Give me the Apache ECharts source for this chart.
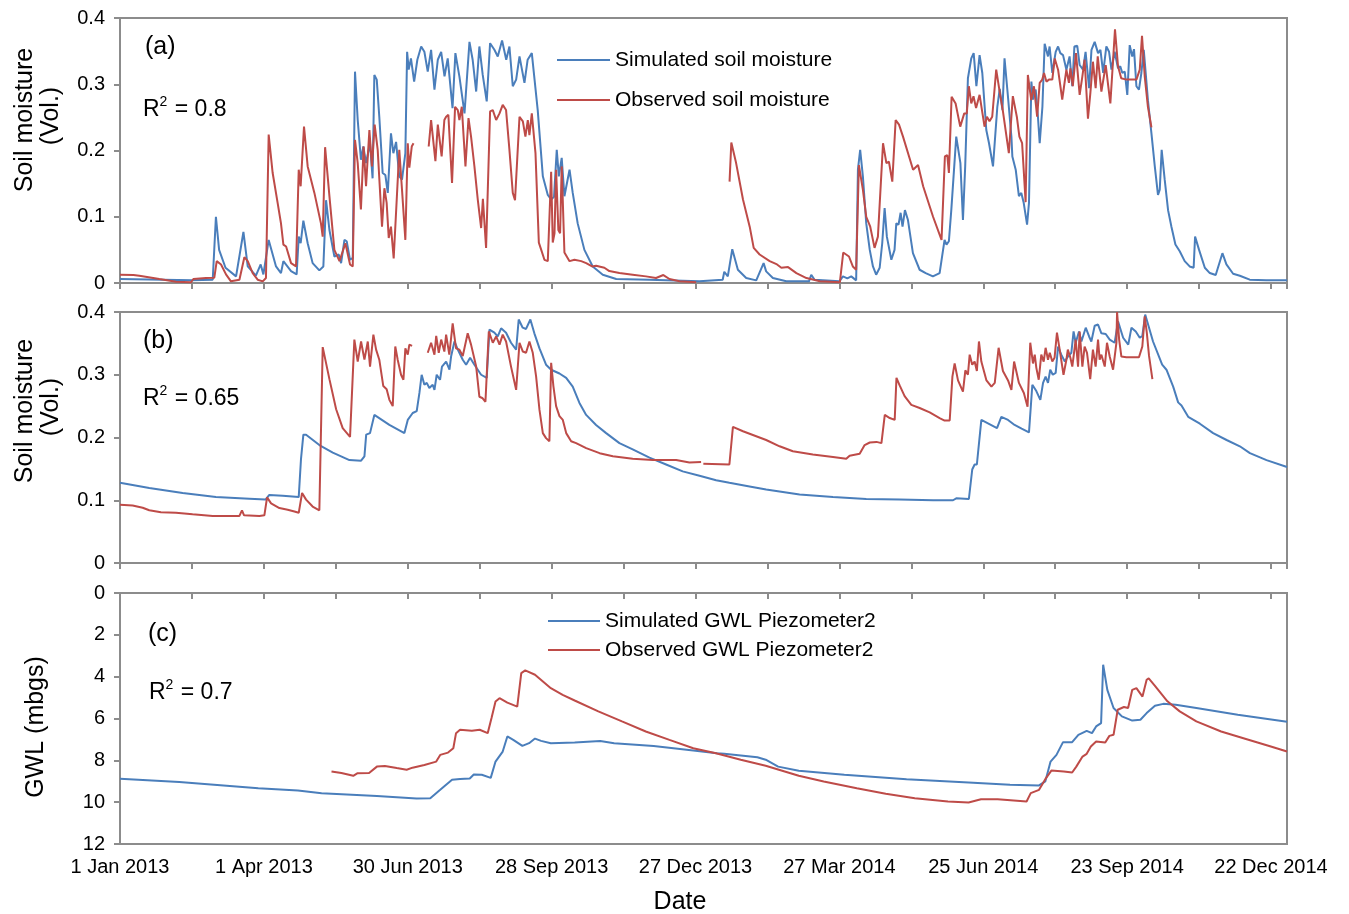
<!DOCTYPE html>
<html>
<head>
<meta charset="utf-8">
<title>Soil moisture and groundwater level</title>
<script src="https://cdn.jsdelivr.net/npm/echarts@6/dist/echarts.min.js"></script>
<style>
  html, body { margin: 0; padding: 0; background: #ffffff; }
  #chart { width: 1349px; height: 914px; }
</style>
</head>
<body>
<div id="chart"></div>
<script>
// Day offsets are counted from 1 Jan 2013 (day 0) to 1 Jan 2015 (day 730).
const tickLabels = ['1 Jan 2013', '1 Apr 2013', '30 Jun 2013', '28 Sep 2013', '27 Dec 2013',
  '27 Mar 2014', '25 Jun 2014', '23 Sep 2014', '22 Dec 2014'];

// (a) soil moisture, upper layer [day, vol. fraction]; null marks a data gap
const soilSimA = [[0,0.006],[45,0.004],[58,0.005],[60,0.100],[62,0.050],[66,0.023],[72.6,0.010],[77.2,0.077],[79.9,0.025],[85,0.011],[88,0.028],[89.7,0.013],[93,0.065],[97.6,0.025],[100.7,0.015],[102.2,0.033],[107,0.018],[110.5,0.013],[111.8,0.070],[113,0.060],[114.7,0.094],[117.4,0.060],[120.5,0.030],[124.7,0.019],[127.2,0.025],[128.9,0.125],[131,0.080],[134.1,0.040],[136.8,0.043],[138.3,0.030],[140.4,0.065],[141.8,0.063],[143.9,0.035],[145.6,0.038],[147,0.319],[148.7,0.246],[150.7,0.186],[152.2,0.206],[153.9,0.181],[156.4,0.211],[158,0.158],[159.1,0.314],[160.6,0.307],[162.2,0.251],[164.3,0.166],[166,0.163],[167.5,0.136],[169.5,0.226],[171,0.196],[172.7,0.213],[174.7,0.161],[176.4,0.156],[178.5,0.196],[179.6,0.349],[180.6,0.322],[182,0.339],[184,0.304],[186,0.337],[188.4,0.357],[190.4,0.349],[192.5,0.319],[194.6,0.352],[196.7,0.292],[198.8,0.337],[200.9,0.349],[203,0.312],[205,0.339],[208,0.264],[209.8,0.347],[212.3,0.312],[215.5,0.256],[218.6,0.364],[220.6,0.337],[222.8,0.289],[224.8,0.357],[226.9,0.314],[229.4,0.274],[231.5,0.362],[234.2,0.352],[236.3,0.342],[239,0.366],[241.6,0.337],[243.6,0.357],[245.7,0.297],[247.8,0.307],[249.9,0.342],[253,0.302],[255,0.337],[257.6,0.347],[261.3,0.261],[264.5,0.161],[267.6,0.133],[269.7,0.126],[271.5,0.130],[273.2,0.201],[274.5,0.161],[276.3,0.189],[278,0.131],[281.2,0.171],[283.2,0.136],[286.3,0.090],[290.5,0.050],[295.7,0.025],[302,0.0125],[310.4,0.006],[331,0.005],[362.5,0.0025],[377,0.005],[378,0.017],[380.2,0.010],[383,0.051],[386.5,0.020],[391.7,0.0075],[398,0.004],[402.6,0.030],[404.2,0.0175],[408.4,0.0075],[416.8,0.0025],[431,0.0025],[432.4,0.0125],[434.5,0.005],[450,0.0025],[452.2,0.010],[455,0.007],[457.4,0.010],[460.5,0.004],[461.6,0.171],[463,0.201],[464.7,0.161],[466.8,0.090],[469,0.050],[471,0.025],[473,0.0125],[475.2,0.023],[476.8,0.060],[478.3,0.113],[479.7,0.070],[482.5,0.035],[484.5,0.050],[485.6,0.090],[487,0.088],[488.3,0.106],[489.5,0.085],[491,0.110],[492.9,0.095],[496,0.045],[500.2,0.020],[504,0.015],[508.5,0.010],[512.7,0.015],[515.8,0.065],[517,0.058],[518.5,0.063],[520,0.110],[523.1,0.221],[525.7,0.181],[527.3,0.095],[528.7,0.176],[530.4,0.309],[532.5,0.339],[534,0.347],[535.7,0.297],[537.7,0.344],[539.4,0.317],[541.9,0.231],[543.6,0.211],[546.1,0.176],[548.8,0.266],[550.3,0.293],[552,0.261],[553.3,0.339],[555.5,0.280],[557.6,0.221],[558.2,0.191],[560.3,0.171],[562.3,0.131],[563.8,0.136],[565.3,0.121],[567.4,0.088],[568.6,0.121],[570.1,0.304],[571.1,0.277],[572.8,0.292],[574.2,0.251],[575.3,0.211],[577,0.266],[578.4,0.361],[580.5,0.342],[581.5,0.357],[583.2,0.317],[585.3,0.349],[586.8,0.357],[588.2,0.347],[589.9,0.344],[592,0.322],[594,0.342],[595.7,0.297],[597,0.357],[598.8,0.358],[600.3,0.329],[602.4,0.322],[604,0.349],[606.2,0.294],[607.7,0.352],[609.7,0.364],[611.8,0.347],[613.3,0.352],[615,0.317],[617,0.357],[618.7,0.349],[620.2,0.322],[622.2,0.349],[624.3,0.324],[625.7,0.327],[627,0.317],[628.5,0.319],[630.1,0.284],[631.6,0.359],[633.2,0.342],[634.3,0.353],[635.8,0.297],[637.4,0.292],[638.9,0.317],[640.4,0.352],[643,0.276],[645.2,0.226],[647.3,0.176],[649.3,0.133],[650.4,0.141],[651.6,0.201],[653.5,0.156],[655.6,0.110],[657.7,0.085],[660.2,0.058],[662.9,0.048],[666,0.033],[669.1,0.025],[671.6,0.023],[672.5,0.070],[675,0.050],[678.6,0.023],[681.7,0.015],[685.4,0.012],[689.6,0.045],[692.1,0.028],[696.3,0.014],[700.5,0.011],[706.7,0.005],[717,0.004],[730,0.004]];

const soilObsA = [[0,0.0125],[8.4,0.012],[12.1,0.011],[24.6,0.006],[35,0.002],[44.4,0.001],[45.9,0.006],[53.8,0.0075],[59,0.008],[60.5,0.033],[63.2,0.028],[66.3,0.013],[69.4,0.0025],[74.7,0.005],[77.8,0.039],[79.9,0.033],[83,0.015],[86.1,0.005],[89.3,0.0025],[91.3,0.0075],[93,0.224],[95.5,0.166],[98.6,0.121],[100.7,0.090],[102.2,0.058],[103.9,0.055],[107,0.030],[110.1,0.025],[111.8,0.171],[113,0.146],[115.1,0.236],[117.4,0.176],[121.6,0.136],[125.7,0.090],[126.8,0.070],[128.3,0.205],[131,0.131],[134.1,0.050],[137.3,0.033],[141,0.060],[143.9,0.028],[145.6,0.025],[147,0.216],[148.7,0.181],[150.7,0.111],[152.4,0.206],[153.9,0.146],[156,0.231],[157.6,0.176],[159.3,0.239],[161.2,0.201],[163.9,0.085],[165.4,0.143],[166.8,0.121],[168.1,0.068],[169.5,0.085],[171.2,0.037],[173.1,0.126],[174.7,0.201],[176.4,0.141],[178.5,0.065],[180,0.211],[181,0.174],[182.5,0.206],[183.6,0.211],[188,null],[193.1,0.206],[194.6,0.246],[195.6,0.249],[197.3,0.184],[198.8,0.239],[199.8,0.236],[201.2,0.191],[202.9,0.246],[204,0.251],[205.4,0.254],[207.7,0.151],[209.6,0.266],[211.3,0.261],[212.3,0.246],[213.8,0.266],[216.1,0.176],[218,0.249],[219.6,0.221],[221.7,0.176],[223.8,0.126],[225.9,0.083],[227,0.127],[229,0.053],[231.5,0.259],[233.2,0.261],[235.3,0.246],[237.4,0.256],[239.4,0.269],[241.5,0.261],[243.6,0.201],[245.7,0.136],[247.1,0.125],[249.9,0.251],[252,0.244],[253.6,0.221],[255.1,0.246],[256.1,0.223],[257.6,0.256],[259.9,0.196],[262,0.061],[263.5,0.050],[265.5,0.035],[267.6,0.033],[269.7,0.168],[270.7,0.061],[271.8,0.075],[272.8,0.171],[274.2,0.080],[275.3,0.075],[276.3,0.176],[278,0.046],[281.2,0.033],[284.3,0.035],[288.5,0.033],[291.6,0.030],[295.3,0.025],[297.8,0.026],[303,0.023],[306.1,0.018],[312.4,0.015],[320.7,0.0125],[329,0.010],[335.3,0.0075],[339.9,0.012],[343.7,0.006],[350,0.0025],[360.4,0.001],[370,null],[381.3,0.153],[382.4,0.212],[385.4,0.181],[389.7,0.126],[393.9,0.085],[396.4,0.053],[400.1,0.043],[406.4,0.033],[411,0.028],[413.7,0.023],[417.9,0.024],[423.1,0.015],[429.4,0.0075],[437.8,0.0025],[450.3,0.001],[452.4,0.046],[453.6,0.044],[456,0.040],[458.4,0.025],[460.5,0.020],[462.2,0.178],[464.7,0.141],[466.8,0.100],[469.3,0.085],[472,0.053],[474.1,0.070],[477.3,0.211],[479.4,0.181],[481,0.183],[483.1,0.153],[485.2,0.246],[487.3,0.239],[489.8,0.221],[496.1,0.171],[499.2,0.178],[502.4,0.146],[508.6,0.100],[513.9,0.065],[516,0.191],[517.5,0.193],[518.5,0.166],[520.2,0.281],[522.7,0.271],[525.6,0.236],[528.1,0.256],[529.7,0.256],[531,0.297],[532.5,0.271],[533.9,0.282],[535.5,0.264],[537.7,0.284],[540.8,0.236],[542.3,0.251],[543.9,0.244],[545.6,0.251],[548.1,0.322],[550.5,0.285],[552.2,0.261],[556,0.196],[558.5,0.282],[561,0.251],[562.6,0.221],[564.3,0.211],[566.5,0.122],[567.9,0.314],[570,0.276],[571.7,0.297],[573.7,0.251],[575.3,0.302],[576.9,0.307],[578,0.317],[579.5,0.304],[581.1,0.307],[583.2,0.307],[584.7,0.339],[586.8,0.322],[589.4,0.277],[590.5,0.279],[592,0.322],[593.6,0.302],[594.5,0.324],[596,0.297],[598,0.347],[600.3,0.284],[602,0.312],[603.4,0.337],[605.5,0.248],[607,0.287],[608.6,0.334],[610.3,0.294],[611.6,0.342],[613.9,0.289],[616.6,0.329],[619.5,0.271],[620.7,0.317],[622.4,0.383],[624.3,0.327],[626.3,0.309],[629.5,0.307],[635.8,0.307],[637.9,0.322],[639.3,0.373],[641,0.312],[643,0.266],[645.2,0.235]];

// (b) soil moisture, lower layer
const soilSimB = [[0,0.128],[18.3,0.1195],[39.2,0.1115],[60,0.105],[80.9,0.1025],[91,0.101],[93.4,0.1085],[101.8,0.107],[111.8,0.105],[113.2,0.165],[114.7,0.2045],[116.4,0.2045],[124.7,0.188],[133.1,0.176],[143.5,0.164],[150.8,0.163],[152.9,0.170],[154,0.2045],[156.4,0.207],[159.1,0.236],[168.5,0.220],[177.9,0.207],[180,0.228],[183.1,0.239],[185.6,0.242],[187.3,0.271],[188.7,0.300],[190.4,0.284],[191.9,0.287],[193.5,0.279],[195.6,0.284],[196.7,0.276],[198.1,0.300],[200.2,0.292],[201.4,0.313],[204,0.321],[206.1,0.308],[207.1,0.329],[209.2,0.353],[211.3,0.340],[214.4,0.324],[216.5,0.316],[219,0.327],[221.7,0.316],[225.9,0.300],[229.4,0.295],[231.1,0.372],[234.2,0.367],[236.3,0.361],[238.4,0.374],[241.5,0.367],[244.6,0.351],[247.8,0.340],[249.4,0.388],[251.9,0.375],[254,0.373],[256.7,0.388],[259.2,0.366],[262.4,0.342],[266.5,0.316],[269.7,0.308],[274.9,0.302],[279.1,0.295],[283.2,0.281],[287.4,0.255],[291.6,0.236],[297.8,0.220],[304.1,0.207],[312.4,0.191],[320.7,0.181],[331.2,0.168],[341.6,0.157],[352,0.146],[362.5,0.139],[372.9,0.132],[381.2,0.128],[393.8,0.122],[404.2,0.117],[425.1,0.109],[446,0.105],[466.8,0.102],[487.7,0.101],[508.6,0.100],[521.1,0.100],[523.1,0.103],[531,0.102],[533.1,0.149],[534.6,0.157],[536,0.157],[538.8,0.228],[548.6,0.215],[551.3,0.233],[555.5,0.228],[559.6,0.220],[564,0.214],[568.6,0.208],[570.7,0.284],[573.2,0.274],[575.7,0.260],[577.4,0.287],[579,0.297],[580.5,0.287],[581.9,0.308],[583.5,0.300],[585.3,0.303],[586.8,0.345],[588.8,0.332],[591,0.321],[593,0.329],[595.1,0.335],[596.5,0.369],[597.8,0.351],[599.9,0.369],[601.4,0.353],[604.1,0.375],[606.2,0.361],[607.6,0.353],[609.7,0.378],[611.8,0.380],[613.9,0.366],[616.6,0.365],[619.1,0.356],[622.2,0.351],[624.3,0.385],[627.5,0.359],[630.7,0.348],[632.7,0.375],[635.4,0.369],[637.9,0.359],[639.5,0.362],[641.3,0.396],[646.2,0.353],[651.9,0.316],[654.6,0.308],[658.8,0.281],[661.9,0.256],[664,0.251],[668.2,0.233],[675.5,0.222],[683.8,0.207],[692.2,0.196],[700.5,0.186],[706.8,0.175],[717.2,0.164],[730,0.153]];

const soilObsB = [[0,0.093],[7.9,0.0915],[14.2,0.088],[18.3,0.084],[25.6,0.081],[35,0.080],[45.4,0.0776],[58,0.075],[74.7,0.075],[76.3,0.084],[77.6,0.076],[87.2,0.075],[90.3,0.076],[92,0.1046],[94.5,0.095],[99.7,0.0876],[104.9,0.085],[109.1,0.082],[111.8,0.080],[113.9,0.1115],[116.4,0.101],[120.5,0.090],[124.7,0.084],[126.8,0.344],[131,0.293],[135.2,0.245],[139.3,0.215],[143.9,0.201],[146.6,0.356],[148.7,0.321],[150.8,0.353],[152.9,0.324],[155,0.353],[156.4,0.313],[158.5,0.364],[160.2,0.340],[162.2,0.324],[164.7,0.282],[166.8,0.277],[168.5,0.260],[170.6,0.250],[172.2,0.345],[173.7,0.324],[175.8,0.300],[177.3,0.292],[178.5,0.342],[180,0.332],[181,0.348],[182.7,0.346],[187,null],[192.5,0.335],[194.6,0.351],[196.7,0.332],[197.8,0.362],[199.4,0.335],[200.9,0.356],[202.9,0.337],[204,0.364],[206,0.332],[208.1,0.382],[210.2,0.342],[212.3,0.340],[214.4,0.330],[217.5,0.366],[219.6,0.348],[222.8,0.313],[224.8,0.265],[226.6,0.263],[228.6,0.257],[230.7,0.369],[233.2,0.351],[235.3,0.361],[237.4,0.348],[239.4,0.364],[241.5,0.353],[244.6,0.313],[247.8,0.276],[249.9,0.351],[252,0.337],[254,0.335],[256.1,0.353],[258.2,0.335],[260.3,0.297],[262.4,0.244],[264.5,0.207],[266.5,0.199],[268.6,0.194],[269.7,0.319],[271.1,0.282],[272.8,0.250],[274.9,0.234],[277,0.228],[279.1,0.207],[282.2,0.194],[285.3,0.191],[291.6,0.183],[300,0.175],[308.3,0.170],[320.7,0.166],[333.3,0.164],[347.9,0.164],[356.2,0.160],[363.5,0.161],[364.2,null],[364.9,0.158],[381.2,0.157],[383.4,0.217],[389.7,0.210],[395.9,0.204],[404.2,0.196],[412.6,0.186],[420.9,0.178],[433.4,0.173],[446,0.169],[454.3,0.166],[456.4,0.171],[462.7,0.174],[465.8,0.188],[469,0.192],[473.2,0.193],[476.3,0.191],[478.4,0.236],[481.5,0.231],[484.6,0.228],[485.7,0.295],[487.7,0.283],[490.8,0.266],[495,0.252],[500.2,0.247],[506.5,0.240],[512.7,0.231],[515.8,0.227],[519,0.227],[520.7,0.297],[522.1,0.318],[524.2,0.291],[527.3,0.273],[528.8,0.307],[530.4,0.300],[531.5,0.332],[533.1,0.316],[534.6,0.321],[536,0.306],[537.3,0.353],[538.8,0.321],[542,0.291],[545.1,0.281],[547.2,0.287],[549.6,0.343],[552.3,0.306],[555.5,0.291],[557.6,0.276],[559.3,0.321],[562.3,0.287],[565.4,0.271],[567.7,0.249],[569.4,0.351],[571.1,0.318],[572.2,0.332],[573.2,0.311],[574.7,0.292],[576.3,0.332],[577.8,0.321],[579,0.343],[580.5,0.324],[581.6,0.335],[583.2,0.321],[584.6,0.327],[586.1,0.367],[587.8,0.340],[590.2,0.300],[592,0.324],[592.9,0.340],[594.5,0.327],[595.7,0.313],[597.8,0.356],[599.3,0.313],[600.3,0.369],[602,0.313],[603.4,0.345],[604.9,0.335],[606.9,0.293],[608.6,0.340],[610.3,0.313],[611.8,0.356],[612.8,0.324],[613.9,0.332],[616,0.313],[617.4,0.351],[619.1,0.329],[621.2,0.308],[623.3,0.351],[623.7,0.400],[625,0.356],[626.4,0.329],[629.5,0.328],[637.4,0.328],[639.5,0.345],[641,0.393],[642.3,0.367],[643.7,0.330],[645.8,0.293]];

// (c) groundwater level below ground surface, piezometer 2 [day, m]
const gwlSim = [[0,8.885],[37.1,9.04],[86.5,9.33],[111.3,9.44],[126.1,9.57],[160.7,9.70],[185.5,9.83],[194.1,9.81],[200.3,9.41],[207.7,8.93],[212.7,8.89],[218.8,8.87],[221.3,8.68],[226.3,8.69],[231.9,8.84],[234.9,8.06],[239.4,7.58],[242.3,6.86],[246,7.02],[251.7,7.31],[255.9,7.18],[259.6,6.96],[263.4,7.07],[269.5,7.18],[284.4,7.15],[300.4,7.08],[309.1,7.18],[333.8,7.31],[358.6,7.53],[373.4,7.66],[378,7.69],[398.7,7.85],[403.9,7.97],[411.7,8.30],[424.6,8.50],[453.1,8.69],[492,8.90],[530.8,9.06],[556.7,9.17],[574.9,9.20],[578.8,9.01],[582.1,8.06],[585.8,7.74],[589.9,7.13],[595.6,7.13],[599.5,6.78],[604.7,6.59],[608,6.70],[610.6,6.38],[613.7,6.22],[615,3.43],[617.6,4.63],[621.5,5.50],[626.7,5.90],[633.2,6.10],[638.3,6.06],[642.2,5.74],[647.4,5.39],[652.6,5.30],[660.4,5.34],[673.3,5.50],[699.2,5.82],[730,6.16]];

const gwlObs = [[132.3,8.53],[133.5,8.49],[138.5,8.61],[145.9,8.74],[148.4,8.62],[155.8,8.61],[160.7,8.30],[165.7,8.27],[173.1,8.37],[179.3,8.45],[183,8.35],[190.4,8.22],[197.8,8.06],[200.3,7.74],[205.2,7.63],[208.5,7.42],[210.2,6.70],[212.7,6.54],[220.1,6.59],[225,6.54],[230,6.70],[232.4,5.98],[234.9,5.19],[237.4,5.03],[242.3,5.24],[248.5,5.43],[251,3.83],[253.5,3.70],[259.6,3.91],[269.5,4.55],[276.9,4.87],[284.4,5.14],[299.2,5.66],[314,6.14],[328.9,6.62],[343.7,7.02],[358.6,7.42],[372.8,7.66],[388.3,7.97],[403.9,8.26],[424.6,8.74],[440.2,9.01],[460.9,9.33],[479,9.60],[497.2,9.81],[517.9,9.97],[530.8,10.02],[538.6,9.86],[549,9.86],[567.1,9.97],[569.7,9.57],[574.9,9.41],[578.8,8.90],[582.6,8.49],[590.4,8.53],[595.6,8.58],[598.2,8.30],[602.1,7.82],[604.7,7.69],[607.3,7.34],[610.6,7.10],[616.3,7.15],[618.9,6.83],[621.5,6.78],[624.1,5.58],[628,5.45],[630.6,5.50],[633.2,4.63],[635.8,4.55],[639.6,4.95],[642.2,4.15],[643.5,4.08],[647.4,4.44],[655.2,5.18],[662.9,5.66],[673.3,6.14],[688.8,6.62],[704.3,6.98],[719.9,7.34],[730,7.58]];

// goodness-of-fit shown in each panel
const panelTags = ['(a)', '(b)', '(c)'];
const rSquared = ['0.8', '0.65', '0.7'];

const BLUE = '#4a7ebb';
const RED = '#be4b48';
const FRAME = '#8c8c8c';
const FONT = "'Liberation Sans', Arial, Helvetica, sans-serif";

// gaps (null) become '-' so the line breaks there
const toSeries = arr => arr.map(p => [p[0], p[1] === null ? '-' : p[1]]);

const chart = echarts.init(document.getElementById('chart'), null, { renderer: 'canvas' });

const gridTops = [18, 312, 593];
const gridHeights = [265, 251, 251];
const grids = gridTops.map((t, i) => ({
  left: 120, top: t, width: 1167, height: gridHeights[i],
  show: true, borderColor: FRAME, borderWidth: 2, backgroundColor: 'transparent',
  containLabel: false, outerBoundsMode: 'none'
}));

const xAxes = [0, 1, 2].map(i => ({
  type: 'value', gridIndex: i, min: 0, max: 730, interval: 45,
  axisLine: { show: true, lineStyle: { color: FRAME, width: 2 } },
  axisTick: { show: true, inside: false, length: 6, lineStyle: { color: FRAME, width: 2 } },
  splitLine: { show: false },
  axisLabel: {
    show: i === 2, margin: 13, fontSize: 20, color: '#000', fontFamily: FONT,
    formatter: v => {
      const k = v / 90;
      return Number.isInteger(k) && k < tickLabels.length ? tickLabels[k] : '';
    }
  }
}));

const yCommon = {
  type: 'value',
  axisLine: { show: true, lineStyle: { color: FRAME, width: 2 } },
  axisTick: { show: true, inside: false, length: 6, lineStyle: { color: FRAME, width: 2 } },
  splitLine: { show: false },
  axisLabel: { margin: 15, fontSize: 20, color: '#000', fontFamily: FONT }
};
const yAxes = [
  Object.assign({}, yCommon, { gridIndex: 0, min: 0, max: 0.4, interval: 0.1 }),
  Object.assign({}, yCommon, { gridIndex: 1, min: 0, max: 0.4, interval: 0.1 }),
  Object.assign({}, yCommon, { gridIndex: 2, min: 0, max: 12, interval: 2, inverse: true })
];

const line = (name, data, color, idx) => ({
  name, type: 'line', xAxisIndex: idx, yAxisIndex: idx,
  data: toSeries(data), showSymbol: false, symbol: 'none',
  connectNulls: false, smooth: false,
  lineStyle: { color, width: 2 }, itemStyle: { color },
  emphasis: { disabled: true }
});

const legendItem = (name, left, centerY, width) => ({
  data: [name], left, top: centerY - 11, orient: 'horizontal', padding: 0,
  icon: 'rect', itemWidth: width, itemHeight: 2, selectedMode: false,
  textStyle: { fontSize: 21, color: '#000', fontFamily: FONT, lineHeight: 22 }
});

// plain text label; rotated labels are centred on (x, y)
const label = (text, x, y, size, opts) => {
  const o = opts || {};
  return {
    type: 'text', x, y, rotation: o.rotation || 0, silent: true,
    style: {
      text, fontSize: size, fill: '#000', fontFamily: FONT,
      align: o.align || 'left', verticalAlign: 'middle'
    }
  };
};

// "R² = value" with a raised, smaller exponent
const rLabel = (value, x, y) => ({
  type: 'text', x, y, silent: true,
  style: {
    text: 'R{sup|2} = ' + value,
    fontSize: 23, fill: '#000', fontFamily: FONT, align: 'left', verticalAlign: 'middle',
    rich: {
      sup: { fontSize: 14, fontFamily: FONT, fill: '#000', verticalAlign: 'top', lineHeight: 30, padding: [0, 1, 0, 0] }
    }
  }
});

const ROT = { rotation: Math.PI / 2, align: 'center' };

chart.setOption({
  animation: false,
  backgroundColor: '#ffffff',
  textStyle: { fontFamily: FONT },
  grid: grids,
  xAxis: xAxes,
  yAxis: yAxes,
  legend: [
    legendItem('Simulated soil moisture', 557, 60, 53),
    legendItem('Observed soil moisture', 557, 100, 53),
    legendItem('Simulated GWL Piezometer2', 548, 621, 52),
    legendItem('Observed GWL Piezometer2', 548, 650, 52)
  ],
  series: [
    line('Simulated soil moisture', soilSimA, BLUE, 0),
    line('Observed soil moisture', soilObsA, RED, 0),
    line('Simulated soil moisture', soilSimB, BLUE, 1),
    line('Observed soil moisture', soilObsB, RED, 1),
    line('Simulated GWL Piezometer2', gwlSim, BLUE, 2),
    line('Observed GWL Piezometer2', gwlObs, RED, 2)
  ],
  graphic: [
    label(panelTags[0], 145, 47, 25),
    rLabel(rSquared[0], 143, 110),
    label(panelTags[1], 143, 341, 25),
    rLabel(rSquared[1], 143, 399),
    label(panelTags[2], 148, 634, 25),
    rLabel(rSquared[2], 149, 693),
    label('Soil moisture', 25, 120, 25, ROT),
    label('(Vol.)', 51, 116, 25, ROT),
    label('Soil moisture', 25, 411, 25, ROT),
    label('(Vol.)', 51, 407, 25, ROT),
    label('GWL (mbgs)', 36, 727, 25, ROT),
    label('Date', 680, 902, 25, { align: 'center' })
  ]
});
</script>
</body>
</html>
